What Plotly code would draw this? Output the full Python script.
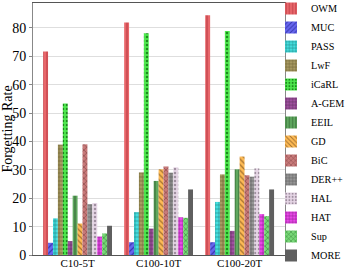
import plotly.graph_objects as go

categories = ["C10-5T", "C100-10T", "C100-20T"]
methods = ["OWM", "MUC", "PASS", "LwF", "iCaRL", "A-GEM", "EEIL", "GD", "BiC", "DER++", "HAL", "HAT", "Sup", "MORE"]
values = {
    "OWM":   [71.7, 81.9, 84.5],
    "MUC":   [4.3, 4.5, 4.5],
    "PASS":  [12.9, 15.1, 18.7],
    "LwF":   [38.9, 29.1, 28.4],
    "iCaRL": [53.4, 78.1, 78.9],
    "A-GEM": [4.9, 9.3, 8.5],
    "EEIL":  [20.9, 26.1, 30.2],
    "GD":    [11.1, 30.2, 34.7],
    "BiC":   [39.0, 31.2, 28.1],
    "DER++": [17.9, 29.0, 27.6],
    "HAL":   [18.3, 30.9, 30.5],
    "HAT":   [6.5, 13.3, 14.4],
    "Sup":   [7.6, 13.1, 13.7],
    "MORE":  [10.3, 23.1, 23.1],
}
y_ticks = [0, 10, 20, 30, 40, 50, 60, 70, 80]

styles = {
    "OWM":   ("#e8676b", "|", "#c04048"),
    "MUC":   ("#6666ee", "/", "#3838b0"),
    "PASS":  ("#44dede", "+", "#208a8a"),
    "LwF":   ("#a89a62", "+", "#6e6232"),
    "iCaRL": ("#4ee84e", ".", "#1c8a1c"),
    "A-GEM": ("#a050a0", "+", "#603060"),
    "EEIL":  ("#5fa85f", "|", "#3a703a"),
    "GD":    ("#ffbb55", "\\", "#a07030"),
    "BiC":   ("#c87a7a", "x", "#8a4a4a"),
    "DER++": ("#969696", "+", "#606060"),
    "HAL":   ("#e6d6e6", ".", "#a090a0"),
    "HAT":   ("#ea48ea", "+", "#902090"),
    "Sup":   ("#78d878", "x", "#3a8a3a"),
    "MORE":  ("#5f5f5f", "", "#5f5f5f"),
}

SERIF = "Liberation Serif"

fig = go.Figure()
for m in methods:
    col, shape, fg = styles[m]
    pat = dict(shape=shape, fgcolor=fg, bgcolor=col, size=4, solidity=0.3, fillmode="replace") if shape else dict(shape="")
    fig.add_trace(go.Bar(
        name=m, x=categories, y=values[m],
        marker=dict(color=col, pattern=pat, line=dict(width=0)),
    ))

L, R, T, B = 33, 61, 3, 14
PW = 346 - L - R
PH = 269 - T - B

fig.update_layout(
    width=346, height=269,
    barmode="group", bargap=0.15, bargroupgap=0,
    margin=dict(l=L, r=R, t=T, b=B, autoexpand=False),
    plot_bgcolor="white", paper_bgcolor="white",
    font=dict(family=SERIF, color="black"),
    showlegend=True,
    legend=dict(
        x=(271 - L) / PW, xanchor="left", y=1 + 9 / PH, yanchor="top",
        xref="paper", yref="paper",
        font=dict(size=10.2, family=SERIF, color="black"),
        itemwidth=30, tracegroupgap=0, maxheight=1,
        bgcolor="rgba(0,0,0,0)", borderwidth=0,
    ),
)
fig.update_yaxes(
    range=[0, 88.8], tickvals=y_ticks, automargin=False,
    tickfont=dict(size=14, family=SERIF),
    title=dict(text="Forgetting Rate", font=dict(size=14, family=SERIF), standoff=7),
    showgrid=True, gridcolor="#dedede", gridwidth=1,
    showline=True, linecolor="#888888", linewidth=1, mirror=True,
    ticks="outside", ticklen=3, tickcolor="#888888",
    zeroline=False,
)
fig.update_xaxes(
    range=[-0.55, 2.56], automargin=False,
    tickfont=dict(size=11, family=SERIF),
    showline=True, linecolor="#555555", linewidth=1, mirror=True,
    ticks="", showgrid=False, ticklabelstandoff=-2,
)

fig.write_html(
    "out.html",
    config={"displayModeBar": False},
    post_script="document.body.style.margin='0';document.body.style.overflow='hidden';",
)
